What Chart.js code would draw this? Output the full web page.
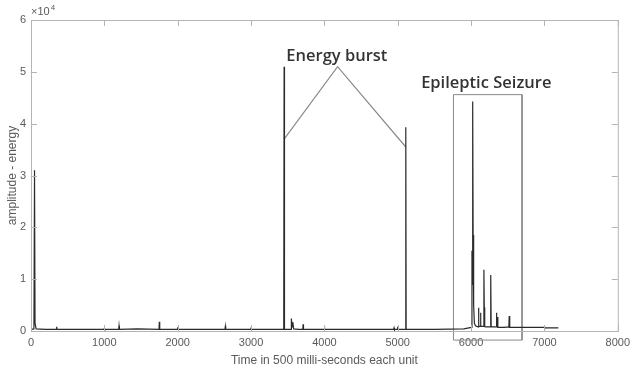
<!DOCTYPE html>
<html>
<head>
<meta charset="utf-8">
<script src="https://cdn.jsdelivr.net/npm/chart.js@4/dist/chart.umd.min.js"></script>
<style>
  html, body { margin: 0; padding: 0; background: #fff; }
  #wrap { width: 635px; height: 370px; position: relative; }
</style>
</head>
<body>
<div id="wrap"><canvas id="chart"></canvas></div>
<script>
// signal: time unit (500 ms each) and amplitude-energy
const timeUnits = [
  0, 40, 48, 55, 70, 200, 345, 350, 355, 600, 995, 1000, 1005, 1195, 1200, 1205,
  1450, 1745, 1750, 1755, 1995, 2000, 2005, 2400, 2645, 2650, 2655, 2995, 3000, 3005,
  3300, 3446, 3451, 3456, 3545, 3550, 3560, 3570, 3580, 3650, 3705, 3710, 3715,
  3995, 4000, 4005, 4500, 4945, 4950, 4955, 4995, 5000, 5005, 5105, 5110, 5115,
  5500, 5900, 6005, 6012, 6017, 6022, 6028, 6035, 6045, 6060, 6095, 6100, 6108,
  6122, 6128, 6135, 6170, 6175, 6180, 6186, 6195, 6262, 6268, 6274, 6340, 6345,
  6352, 6358, 6365, 6450, 6515, 6520, 6527, 6700, 6995, 7000, 7005, 7190
];
const amplitude = [
  300, 400, 31000, 1500, 400, 300, 300, 800, 300, 300, 300, 500, 300, 300, 1000, 300,
  400, 300, 1800, 300, 300, 700, 300, 300, 300, 900, 300, 300, 500, 300,
  300, 300, 51000, 300, 300, 2400, 800, 1700, 400, 300, 300, 1300, 300,
  300, 700, 300, 300, 300, 600, 300, 300, 800, 300, 300, 39300, 300,
  300, 400, 700, 15500, 9000, 44300, 18500, 5000, 1500, 1000, 800, 4500, 900,
  900, 3500, 900, 900, 11800, 4600, 900, 800, 800, 10800, 800, 800, 3500,
  800, 2700, 700, 700, 800, 2900, 700, 700, 700, 900, 600, 600
];

// annotation geometry in data units
const burstGuideX = [3451, 4180, 5110];
const burstGuideY = [37000, 51000, 35500];
const seizureBoxX = [5760, 6695, 6695, 5760, 5760];
const seizureBoxY = [45600, 45600, -1750, -1750, 45600];
const labels = [
  { text: 'Energy burst', x: 4170, y: 52000 },
  { text: 'Epileptic Seizure', x: 6207, y: 46840 }
];

const xTicks = [0, 1000, 2000, 3000, 4000, 5000, 6000, 7000, 8000];
const yTicks = [0, 10000, 20000, 30000, 40000, 50000, 60000];

const toPoints = (xs, ys) => xs.map((x, i) => ({ x: x, y: ys[i] }));

const axisGray = '#b4b4b4';
const textGray = '#5a5a5a';

// box, inward ticks, exponent and text labels
const matlabLook = {
  id: 'matlabLook',
  afterDraw(chart) {
    const ctx = chart.ctx;
    const a = chart.chartArea;
    const xs = chart.scales.x, ys = chart.scales.y;
    ctx.save();
    ctx.strokeStyle = axisGray;
    ctx.lineWidth = 1;
    ctx.strokeRect(a.left + 0.5, a.top + 0.5, a.right - a.left, a.bottom - a.top);
    ctx.beginPath();
    xTicks.forEach(v => {
      const px = Math.round(xs.getPixelForValue(v)) + 0.5;
      ctx.moveTo(px, a.bottom); ctx.lineTo(px, a.bottom - 6);
      ctx.moveTo(px, a.top); ctx.lineTo(px, a.top + 6);
    });
    yTicks.forEach(v => {
      const py = Math.round(ys.getPixelForValue(v)) + 0.5;
      ctx.moveTo(a.left, py); ctx.lineTo(a.left + 6, py);
      ctx.moveTo(a.right, py); ctx.lineTo(a.right - 6, py);
    });
    ctx.stroke();

    // x10^4 exponent
    ctx.fillStyle = textGray;
    ctx.textBaseline = 'alphabetic';
    ctx.textAlign = 'left';
    ctx.font = '11px "Liberation Sans", Arial, sans-serif';
    ctx.fillText('\u00d710', a.left, a.top - 5);
    const w = ctx.measureText('\u00d710').width;
    ctx.font = '8px "Liberation Sans", Arial, sans-serif';
    ctx.fillText('4', a.left + w + 1, a.top - 10);

    // annotation text
    ctx.fillStyle = '#333';
    ctx.textAlign = 'center';
    ctx.font = '600 16.5px "Open Sans", sans-serif';
    labels.forEach(l => {
      ctx.fillText(l.text, xs.getPixelForValue(l.x), ys.getPixelForValue(l.y));
    });
    ctx.restore();
  }
};

new Chart(document.getElementById('chart'), {
  type: 'line',
  data: {
    datasets: [
      {
        label: 'signal',
        data: toPoints(timeUnits, amplitude),
        borderColor: '#2a2a2a',
        borderWidth: 1.2,
        pointRadius: 0,
        tension: 0
      },
      {
        label: 'burst guide',
        data: toPoints(burstGuideX, burstGuideY),
        borderColor: '#8a8a8a',
        borderWidth: 1.2,
        pointRadius: 0,
        tension: 0
      },
      {
        label: 'seizure box',
        data: toPoints(seizureBoxX, seizureBoxY),
        borderColor: '#8a8a8a',
        borderWidth: 1,
        pointRadius: 0,
        tension: 0,
        clip: false
      }
    ]
  },
  options: {
    responsive: true,
    maintainAspectRatio: false,
    animation: false,
    layout: { padding: { top: 20, right: 15, left: 5, bottom: 0 } },
    plugins: {
      legend: { display: false },
      tooltip: { enabled: false }
    },
    scales: {
      x: {
        type: 'linear',
        min: 0,
        max: 8000,
        afterBuildTicks: s => { s.ticks = xTicks.map(v => ({ value: v })); },
        afterFit: s => { s.height = 39; },
        grid: { display: false, drawTicks: false },
        border: { display: true, color: axisGray },
        ticks: {
          color: textGray,
          padding: 5,
          maxRotation: 0,
          font: { family: '"Liberation Sans", Arial, sans-serif', size: 11 },
          callback: v => String(v)
        },
        title: {
          display: true,
          text: 'Time in 500 milli-seconds each unit',
          color: textGray,
          padding: { top: 1, bottom: 2 },
          font: { family: '"Liberation Sans", Arial, sans-serif', size: 12 }
        }
      },
      y: {
        type: 'linear',
        min: 0,
        max: 60000,
        afterBuildTicks: s => { s.ticks = yTicks.map(v => ({ value: v })); },
        afterFit: s => { s.width = 26; },
        grid: { display: false, drawTicks: false },
        border: { display: true, color: axisGray },
        ticks: {
          color: textGray,
          padding: 5,
          font: { family: '"Liberation Sans", Arial, sans-serif', size: 11 },
          callback: v => String(v / 10000)
        },
        title: {
          display: true,
          text: 'amplitude - energy',
          color: textGray,
          padding: { top: 0, bottom: 0 },
          font: { family: '"Liberation Sans", Arial, sans-serif', size: 12 }
        }
      }
    }
  },
  plugins: [matlabLook]
});
</script>
</body>
</html>
